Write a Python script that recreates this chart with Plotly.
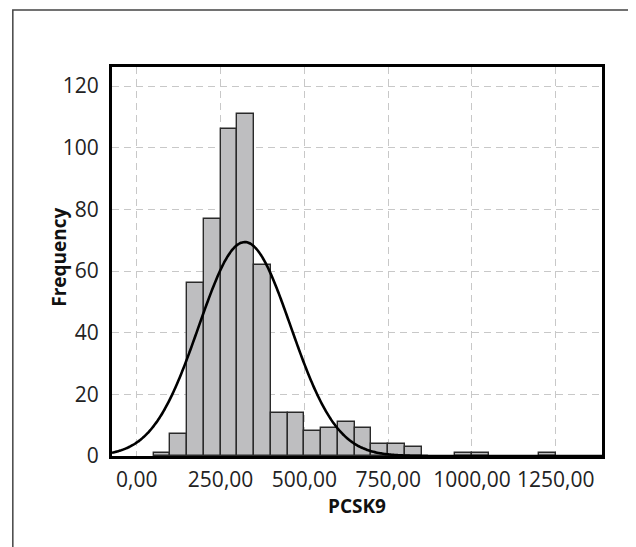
import numpy as np
import plotly.graph_objects as go

# Histogram bins (lower edge of each 50-wide bin) and their counts
BIN_START = [50, 100, 150, 200, 250, 300, 350, 400, 450, 500, 550, 600, 650, 700, 750, 800, 950, 1000, 1200]
COUNTS = [1, 7, 56, 77, 106, 111, 62, 14, 14, 8, 9, 11, 9, 4, 4, 3, 1, 1, 1]
BIN_WIDTH = 50

# Normal curve parameters
CURVE_MEAN = 322
CURVE_SD = 137
CURVE_PEAK = 69.4

X_TICKS = [0, 250, 500, 750, 1000, 1250]
X_TICK_LABELS = ["0,00", "250,00", "500,00", "750,00", "1000,00", "1250,00"]
Y_TICKS = [0, 20, 40, 60, 80, 100, 120]
X_TITLE = "PCSK9"
Y_TITLE = "Frequency"

X_RANGE = [-74, 1388]
Y_RANGE = [0, 126.2]

centers = [s + BIN_WIDTH / 2 for s in BIN_START]
cx = np.linspace(X_RANGE[0], X_RANGE[1], 400)
cy = CURVE_PEAK * np.exp(-0.5 * ((cx - CURVE_MEAN) / CURVE_SD) ** 2)

TICK_FONT = "Open Sans"
TITLE_FONT = "Open Sans"
GRID_DASH = "7px,5px"

fig = go.Figure()
fig.add_trace(go.Bar(
    x=centers, y=COUNTS, width=[BIN_WIDTH] * len(centers),
    marker=dict(color="#bebec0", line=dict(color="#2a2a2a", width=1.4)),
    hoverinfo="x+y",
))
fig.add_trace(go.Scatter(
    x=cx, y=cy, mode="lines",
    line=dict(color="#000000", width=2.6, shape="spline"),
    hoverinfo="skip",
))

# page body adds 8px offset; figure is sized/margined to compensate
fig.update_layout(
    width=628, height=539,
    margin=dict(l=104, r=34, t=59, b=91),
    paper_bgcolor="white", plot_bgcolor="white",
    showlegend=False, bargap=0,
    font=dict(family=TICK_FONT, color="#222222"),
    shapes=[dict(
        type="rect", xref="paper", yref="paper",
        x0=-0.2024, x1=1.0653, y0=-0.25, y1=1.1465,
        line=dict(color="#444444", width=1.5), fillcolor="rgba(0,0,0,0)",
        layer="below",
    )],
    annotations=[dict(
        text="<b>" + Y_TITLE + "</b>", xref="paper", yref="paper",
        x=-0.108, y=0.51, textangle=-90, showarrow=False,
        xanchor="center", yanchor="middle",
        font=dict(size=19, family=TITLE_FONT, color="#111111"),
    )],
)
fig.update_xaxes(
    range=X_RANGE, tickvals=X_TICKS, ticktext=X_TICK_LABELS,
    tickfont=dict(size=21, family=TICK_FONT, color="#222222"),
    showgrid=True, gridcolor="#c8c8c8", griddash=GRID_DASH, gridwidth=1,
    showline=True, linecolor="black", linewidth=3, mirror=True,
    ticks="outside", ticklen=3, tickcolor="rgba(0,0,0,0)",
    zeroline=False,
    title=dict(text="<b>" + X_TITLE + "</b>", font=dict(size=19, family=TITLE_FONT, color="#111111"), standoff=0),
)
fig.update_yaxes(
    range=Y_RANGE, tickvals=Y_TICKS,
    tickfont=dict(size=21, family=TICK_FONT, color="#222222"),
    showgrid=True, gridcolor="#c8c8c8", griddash=GRID_DASH, gridwidth=1,
    showline=True, linecolor="black", linewidth=3, mirror=True,
    ticks="outside", ticklen=6, tickcolor="rgba(0,0,0,0)",
    zeroline=False,
)

fig.write_html("out.html")
